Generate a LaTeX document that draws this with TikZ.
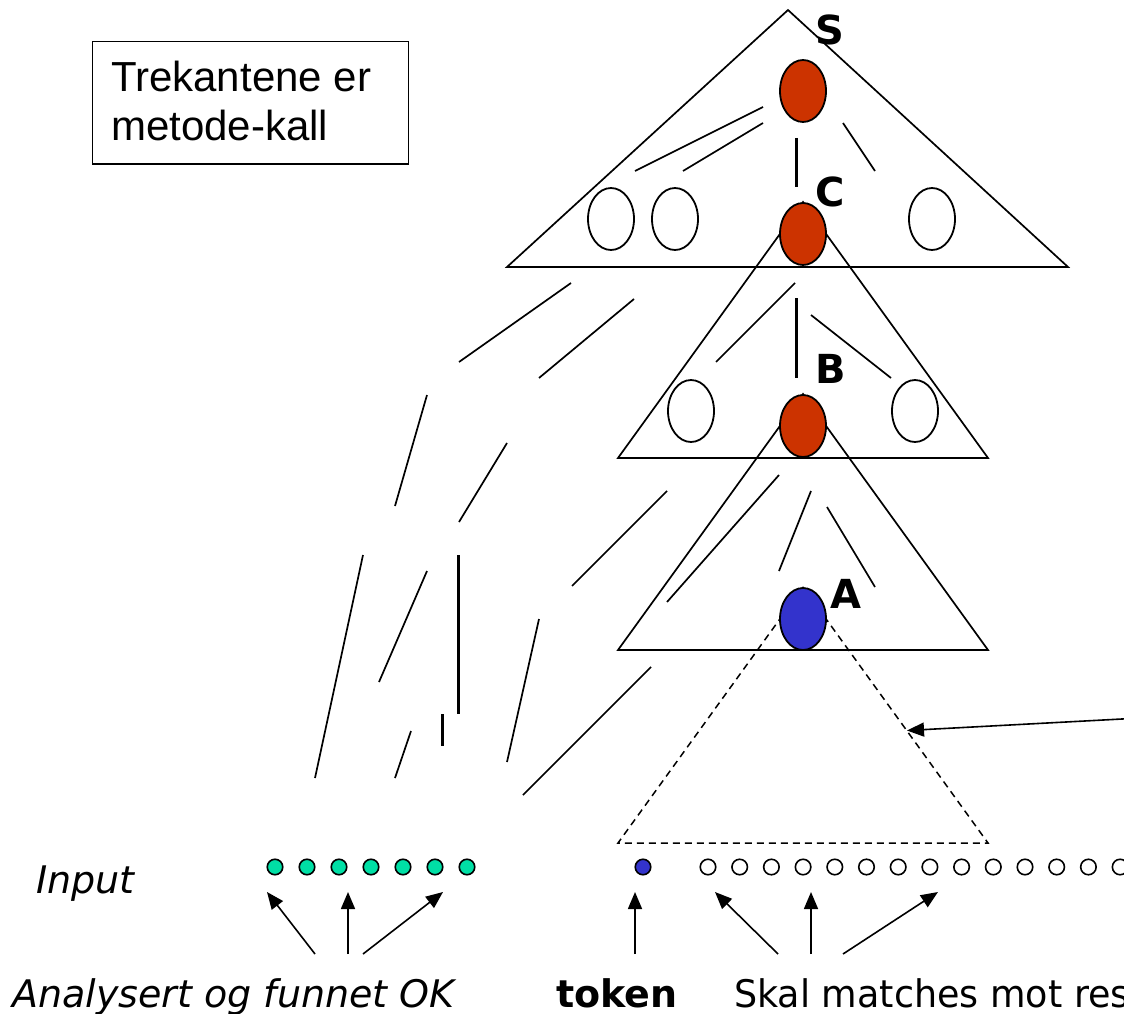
\documentclass[tikz,border=0pt]{standalone}
\usepackage{fontspec}
\setmainfont{DejaVu Sans}
\newfontfamily\boxfont{Liberation Sans}
\newfontfamily\narrowfont[FakeStretch=0.96]{DejaVu Sans}
\usetikzlibrary{arrows.meta,shapes.geometric}
\definecolor{nodered}{HTML}{CC3300}
\definecolor{tokenblue}{HTML}{3333CC}
\definecolor{donegreen}{HTML}{00DFA5}

\begin{document}
\begin{tikzpicture}[x=1pt,y=-1pt,
  tri/.style={line width=1.7pt, line join=miter},
  dashtri/.style={line width=1.5pt, dash pattern=on 7pt off 5pt},
  stub/.style={line width=1.7pt},
  thickstub/.style={line width=3pt},
  oval/.style={ellipse, draw, line width=1.8pt, minimum width=46pt,
    minimum height=62pt, inner sep=0pt, fill=white},
  redoval/.style={oval, fill=nodered},
  blueoval/.style={oval, fill=tokenblue},
  lbl/.style={inner sep=0pt, anchor=base west,
    font=\fontsize{40}{48}\selectfont\bfseries},
  inputdot/.style={circle, draw, line width=1.6pt, minimum size=15.5pt,
    inner sep=0pt},
  arr/.style={line width=1.6pt, -{Triangle[length=17pt,width=14pt]}},
  txt/.style={inner sep=0pt, anchor=base west},
]
\useasboundingbox (0,0) rectangle (1124,1014);
\clip (0,0) rectangle (1124,1014);

% legend box
\node[draw, line width=1.5pt, minimum width=316pt, minimum height=122pt,
  inner sep=0pt, anchor=north west] (legend) at (91.5,41) {};
\node[txt, font=\boxfont\fontsize{42}{48}\selectfont] (leg1) at (111,92) {Trekantene er};
\node[txt, font=\boxfont\fontsize{42}{48}\selectfont] (leg2) at (111,140) {metode-kall};

% call triangles
\coordinate (S top) at (788,10);
\coordinate (S left) at (507,267);
\coordinate (S right) at (1068,267);
\draw[tri] (S top) -- (S right) -- (S left) -- cycle;

\coordinate (C top) at (803,202);
\coordinate (C left) at (618,458);
\coordinate (C right) at (988,458);
\draw[tri] (C top) -- (C right) -- (C left) -- cycle;

\coordinate (B top) at (803,394);
\coordinate (B left) at (618,650);
\coordinate (B right) at (988,650);
\draw[tri] (B top) -- (B right) -- (B left) -- cycle;

\coordinate (A top) at (803,587);
\coordinate (A left) at (618,843);
\coordinate (A right) at (988,843);
\draw[dashtri] (A top) -- (A right) -- (A left) -- cycle;

% sub-tree strokes inside the triangles
\draw[stub] (635,171) -- (763,107);
\draw[stub] (683,171) -- (763,123);
\draw[thickstub] (796,138) -- (796,187);
\draw[stub] (843,123) -- (875,171);

\draw[stub] (795,283) -- (716,362);
\draw[thickstub] (796,298) -- (796,378);
\draw[stub] (811,315) -- (891,378);

\draw[stub] (779,475) -- (667,602);
\draw[stub] (811,491) -- (779,571);
\draw[stub] (827,507) -- (875,587);

% strokes of the finished part of the tree
\draw[stub] (571,283) -- (459,362);
\draw[stub] (634,299) -- (539,378);
\draw[stub] (427,395) -- (395,506);
\draw[stub] (507,443) -- (459,522);
\draw[stub] (667,491) -- (572,586);
\draw[stub] (363,555) -- (315,778);
\draw[stub] (427,571) -- (379,682);
\draw[thickstub] (458,555) -- (458,714);
\draw[thickstub] (442,714) -- (442,746);
\draw[stub] (411,731) -- (395,778);
\draw[stub] (539,619) -- (507,762);
\draw[stub] (651,667) -- (523,795);

% tree nodes
\node[redoval] (S) at (803,91) {};
\node[oval] (s1) at (611,219) {};
\node[oval] (s2) at (675,219) {};
\node[oval] (s3) at (932,219) {};
\node[redoval] (C) at (803,234) {};
\node[oval] (c1) at (691,411) {};
\node[oval] (c2) at (915,411) {};
\node[redoval] (B) at (803,426) {};
\node[blueoval] (A) at (803,619) {};

\node[lbl] (labS) at (815,45) {S};
\node[lbl] (labC) at (815,206) {C};
\node[lbl] (labB) at (815,383) {B};
\node[lbl] (labA) at (830,608) {A};

% input symbols
\foreach \i in {0,...,6}
  \node[inputdot, fill=donegreen] (g\i) at ({275+32*\i},867) {};
\node[inputdot, fill=tokenblue] (tok) at (643,867) {};
\foreach \i in {0,...,13}
  \node[inputdot, fill=white] (w\i) at ({708+31.7*\i},867) {};

% pointer to the dashed triangle
\coordinate (far right) at (1150,717.5);
\coordinate (dash pt) at (907,730.5);
\draw[arr] (far right) -- (dash pt);

% arrows up to the input
\foreach \n/\sx/\ex in {p1/315/267, p2/348/348, p3/363/443, p4/635/635,
                        p5/778/715, p6/811/811, p7/843/938} {
  \coordinate (\n-from) at (\sx,954);
  \coordinate (\n-to) at (\ex,892);
  \draw[arr] (\n-from) -- (\n-to);
}

% captions
\node[txt, font=\fontsize{38}{46}\selectfont\itshape] (inp) at (36,893) {Input};
\node[txt, font=\fontsize{38}{46}\selectfont\itshape] (done) at (12,1007) {Analysert og funnet OK};
\node[txt, font=\fontsize{38}{46}\selectfont\bfseries] (token) at (556,1007) {token};
\node[txt, font=\narrowfont\fontsize{38}{46}\selectfont] (rest) at (734,1007) {Skal matches mot res};
\end{tikzpicture}
\end{document}
